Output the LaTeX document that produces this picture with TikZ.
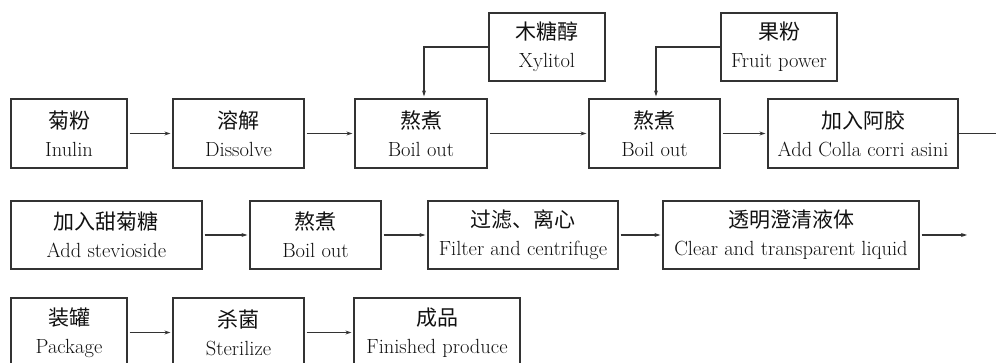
\documentclass[tikz,border=0pt]{standalone}
\usepackage{fontspec}
\newfontfamily\cjk{Noto Sans CJK SC}
\usetikzlibrary{arrows.meta}
\definecolor{ln}{HTML}{333333}
\definecolor{tx}{HTML}{111111}
\newcommand\zhtxt[1]{{\cjk\fontsize{21}{28}\selectfont #1}}
\begin{document}
\begin{tikzpicture}[x=1pt,y=-1pt,
  box/.style={draw=ln, line width=1.2pt, rectangle, inner sep=0pt, minimum height=69pt,
    align=center, text=tx, font=\fontsize{20.5}{28}\selectfont},
  arr/.style={draw=ln, line width=1.2pt, -{Stealth[length=6pt,width=4pt]}, shorten >=2pt, shorten <=2pt},
  ln/.style={draw=ln, line width=1.2pt}]
\useasboundingbox (0,0) rectangle (996,363);
\clip (0,0) rectangle (996,363);
% row 1
\node[box, minimum width=116pt] (inulin) at (69,133.5) {\zhtxt{菊粉}\\Inulin};
\node[box, minimum width=131pt] (dissolve) at (238.5,133.5) {\zhtxt{溶解}\\Dissolve};
\node[box, minimum width=132pt] (boilA) at (421,133.5) {\zhtxt{熬煮}\\Boil out};
\node[box, minimum width=116pt, minimum height=68pt] (xylitol) at (547,47) {\zhtxt{木糖醇}\\Xylitol};
\node[box, minimum width=116pt, minimum height=68pt] (fruit) at (779,47) {\zhtxt{果粉}\\Fruit power};
\node[box, minimum width=131pt] (boilB) at (654.5,133.5) {\zhtxt{熬煮}\\Boil out};
\node[box, minimum width=190pt] (colla) at (863,133.5) {\zhtxt{加入阿胶}\\Add Colla corri asini};
\coordinate (outA) at (1000,133.5);
% row 2
\node[box, minimum width=191pt, minimum height=68pt] (stevia) at (106.5,235) {\zhtxt{加入甜菊糖}\\Add stevioside};
\node[box, minimum width=131pt, minimum height=68pt] (boilC) at (315.5,235) {\zhtxt{熬煮}\\Boil out};
\node[box, minimum width=190pt, minimum height=68pt] (filter) at (523,235) {\zhtxt{过滤、离心}\\Filter and centrifuge};
\node[box, minimum width=256pt, minimum height=68pt] (clear) at (791,235) {\zhtxt{透明澄清液体}\\Clear and transparent liquid};
\coordinate (outB) at (967,235);
% row 3
\node[box, minimum width=116pt] (package) at (69,332.5) {\zhtxt{装罐}\\Package};
\node[box, minimum width=131pt] (sterilize) at (238.5,332.5) {\zhtxt{杀菌}\\Sterilize};
\node[box, minimum width=166pt] (finished) at (437,332.5) {\zhtxt{成品}\\Finished produce};
% connectors
\draw[arr] (inulin) -- (dissolve);
\draw[arr] (dissolve) -- (boilA);
\draw[arr] (boilA) -- (boilB);
\draw[arr] (boilB) -- (colla);
\draw[ln] (colla.east) -- (outA);
\draw[arr, shorten <=0pt] (xylitol.west) -| ([xshift=3pt]boilA.north);
\draw[arr, shorten <=0pt] (fruit.west) -| ([xshift=1.5pt]boilB.north);
\draw[arr] (stevia) -- (boilC);
\draw[arr] (boilC) -- (filter);
\draw[arr] (filter) -- (clear);
\draw[arr, shorten >=0pt] (clear.east) -- (outB);
\draw[arr] (package) -- (sterilize);
\draw[arr] (sterilize) -- (finished);
\end{tikzpicture}
\end{document}
